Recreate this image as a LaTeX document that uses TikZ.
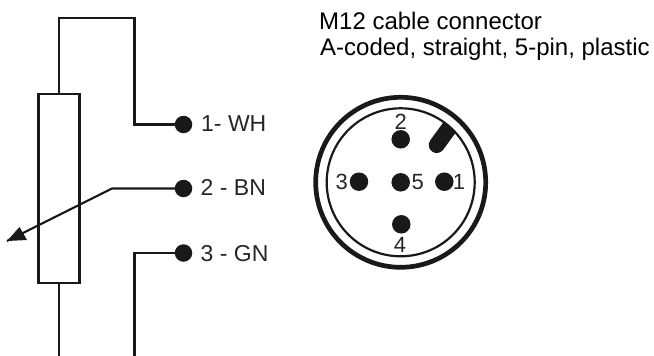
\documentclass[tikz,border=0pt]{standalone}
\usepackage{fontspec}
\setmainfont{Liberation Sans}
\usetikzlibrary{arrows.meta}
\tikzset{
  wire/.style={line width=2.2pt, draw=black!90, line join=miter},
  pin/.style={circle, fill=black!90, inner sep=0pt, minimum size=17.5pt},
  cpin/.style={circle, fill=black!90, inner sep=0pt, minimum size=18.5pt},
  lab/.style={font=\fontsize{23}{23}\selectfont, text=black!85, inner sep=0pt, anchor=base west},
  ttl/.style={font=\fontsize{24}{24}\selectfont, text=black, inner sep=0pt, anchor=base west},
  num/.style={font=\fontsize{22}{22}\selectfont, text=black!85, inner sep=0pt},
}
\begin{document}
\begin{tikzpicture}[x=1pt,y=-1pt]
\useasboundingbox (0,0) rectangle (654,356);
% potentiometer
\node[draw=black!90, line width=2.2pt, minimum width=41pt, minimum height=189pt, inner sep=0pt, outer sep=0pt] (res) at (59,188.5) {};
\node[pin] (p1) at (183.5,124.5) {};
\node[pin] (p2) at (183.5,188.5) {};
\node[pin] (p3) at (183.5,253) {};
\coordinate (t1) at (58.7,18);
\coordinate (t2) at (134.5,18);
\coordinate (t3) at (134.5,124.5);
\coordinate (k) at (112,188.5);
\coordinate (tip) at (7,241);
\coordinate (e3) at (134.5,253);
\coordinate (e4) at (134.5,356);
\coordinate (b1) at (58.7,283);
\coordinate (b2) at (58.7,356);
\coordinate (t0) at (58.7,94);
\draw[wire] (t0) -- (t1) -- (t2) -- (t3) -- (p1.center);
\draw[wire] (p2.center) -- (k) -- (tip);
\fill[black!90] (tip) -- ++(12.5,-14) -- ++(7.5,13) -- cycle;
\draw[wire] (p3.center) -- (e3) -- (e4);
\draw[wire] (b1) -- (b2);
\node[lab] (l1) at (201,131.7) {1- WH};
\node[lab] (l2) at (200.5,195.7) {2 - BN};
\node[lab] (l3) at (200.5,261) {3 - GN};
% title
\node[ttl] (title1) at (319,29) {M12 cable connector};
\node[ttl] (title2) at (320,56) {A-coded, straight, 5-pin, plastic};
% connector
\coordinate (c) at (400.7,182.3);
\begin{scope}
\clip (c) circle (74);
\draw[black!90, line width=16pt, line cap=round] (436.7,145) -- (455,120);
\end{scope}
\draw[black!90, line width=4.7pt] (c) circle (85);
\draw[black!90, line width=2.2pt] (c) circle (74);
\node[cpin] (c2) at (400.7,139.3) {};
\node[cpin] (c3) at (359,181.7) {};
\node[cpin] (c5) at (400.7,182.3) {};
\node[cpin] (c1) at (444.3,181.7) {};
\node[cpin] (c4) at (401.3,224.3) {};
\node[num] (n2) at (400.7,122) {2};
\node[num] (n3) at (341.7,181.7) {3};
\node[num] (n5) at (417.7,182) {5};
\node[num] (n1) at (459,181.7) {1};
\node[num] (n4) at (400,245) {4};
\end{tikzpicture}
\end{document}
